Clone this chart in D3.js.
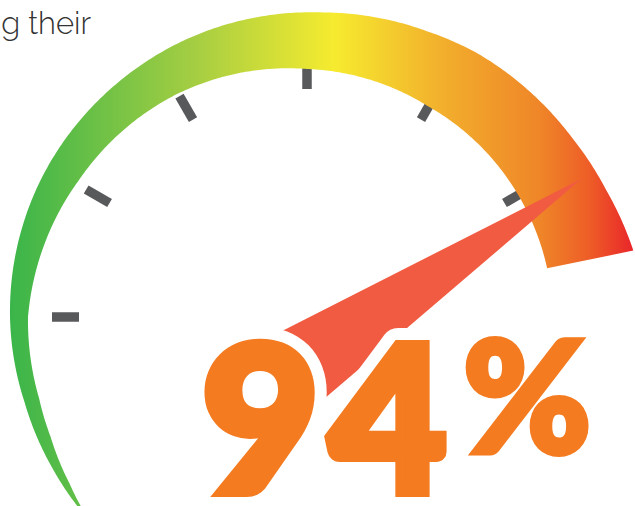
<!DOCTYPE html>
<head>
<meta charset="utf-8">
<title>Gauge 94%</title>
<script src="https://d3js.org/d3.v7.min.js"></script>
<style>
  html, body { margin: 0; padding: 0; background: #fff; }
  svg { display: block; }
</style>
</head>
<body>
<div id="container"></div>
<script>
//------------------------------DATA------------------------------//
const gaugeValue = 94;
const valueLabel = "94";
const unitLabel = "%";
const tickSteps = [0, 1, 2, 3, 4, 5];
const captionText = "g their";

//-----------------------------SETUP------------------------------//
const width = 635;
const height = 506;
const deg = Math.PI / 180;
const cx = 307, cy = 317;

const svg = d3.select("#container").append("svg")
    .attr("width", width)
    .attr("height", height);

// value -> angle (0 = 12 o'clock, clockwise)
const needleAngle = d3.scaleLinear().domain([0, 100]).range([-90 * deg, 65.6 * deg]);
const tickAngle = d3.scaleLinear().domain([0, 6]).range([-90 * deg, 90 * deg]);

// tapered band: radius profile along the sweep (degrees -> px)
const outerR = d3.scaleLinear()
    .domain([-133, -120, -107, -90, -63, -41, -21, 3, 23, 33, 45, 56, 67, 78.5])
    .range([298, 296, 295, 297, 299.5, 301, 303, 305, 310, 314, 317, 320, 325, 333]);
const innerR = d3.scaleLinear()
    .domain([-133, -125, -115, -107, -90, -59, -30, 0, 30, 62, 78.5])
    .range([298, 290, 283, 280, 279, 266, 258, 248, 243, 244, 245]);

//---------------------------GRADIENT-----------------------------//
const stops = [
  {o: 0,    c: "#3ab54a"},
  {o: 0.30, c: "#a6ce42"},
  {o: 0.52, c: "#f6eb2f"},
  {o: 0.70, c: "#f2ad2c"},
  {o: 0.85, c: "#ef8628"},
  {o: 0.93, c: "#ee5d27"},
  {o: 1,    c: "#e9262a"}
];
// gradient lives in the translated group's space
const grad = svg.append("defs").append("linearGradient")
    .attr("id", "bandGrad")
    .attr("gradientUnits", "userSpaceOnUse")
    .attr("x1", 10 - cx).attr("y1", 0)
    .attr("x2", 633 - cx).attr("y2", 0);
grad.selectAll("stop").data(stops).join("stop")
    .attr("offset", d => d.o)
    .attr("stop-color", d => d.c);

const g = svg.append("g").attr("transform", "translate(" + cx + "," + cy + ")");

//-----------------------------TICKS------------------------------//
g.append("g").selectAll("line")
    .data(tickSteps)
    .join("line")
    .attr("x1", d => 228 * Math.sin(tickAngle(d)))
    .attr("y1", d => -228 * Math.cos(tickAngle(d)))
    .attr("x2", d => 255 * Math.sin(tickAngle(d)))
    .attr("y2", d => -255 * Math.cos(tickAngle(d)))
    .attr("stroke", "#58595b")
    .attr("stroke-width", 9.5);

//-----------------------------BAND-------------------------------//
const band = d3.areaRadial()
    .angle(a => a * deg)
    .innerRadius(a => innerR(a))
    .outerRadius(a => outerR(a));

g.append("path")
    .attr("d", band(d3.range(-133, 78.51, 0.5)))
    .attr("fill", "url(#bandGrad)");

//-----------------------------NEEDLE-----------------------------//
const a = needleAngle(gaugeValue);
const needleLen = 350, needleHalf = 41.7;
const tip = [581.6, 178.8];
const pivot = [tip[0] - needleLen * Math.sin(a), tip[1] + needleLen * Math.cos(a)];
const needlePts = [
  tip,
  [pivot[0] + needleHalf * Math.cos(a), pivot[1] + needleHalf * Math.sin(a)],
  [pivot[0] - needleHalf * Math.cos(a), pivot[1] - needleHalf * Math.sin(a)]
];
svg.append("path")
    .attr("d", d3.line()(needlePts) + "Z")
    .attr("fill", "#f15b41");

//-----------------------------LABELS-----------------------------//
const bigFont = "Lato, 'Open Sans', sans-serif";
const orange = "#f47b20";

// white halo behind the number (cuts the needle)
svg.append("text")
    .attr("x", 202).attr("y", 492)
    .style("font-family", bigFont).style("font-weight", 900)
    .style("font-size", "202px").style("letter-spacing", "10px")
    .attr("fill", "#fff").attr("stroke", "#fff")
    .attr("stroke-width", 34).attr("stroke-linejoin", "round")
    .text(valueLabel);

svg.append("text")
    .attr("x", 202).attr("y", 492)
    .style("font-family", bigFont).style("font-weight", 900)
    .style("font-size", "202px").style("letter-spacing", "10px")
    .attr("fill", orange).attr("stroke", orange)
    .attr("stroke-width", 10).attr("stroke-linejoin", "miter")
    .text(valueLabel);

svg.append("text")
    .attr("x", 463).attr("y", 453)
    .style("font-family", bigFont).style("font-weight", 900)
    .style("font-size", "155px")
    .attr("fill", orange).attr("stroke", orange)
    .attr("stroke-width", 6).attr("stroke-linejoin", "miter")
    .text(unitLabel);

svg.append("text")
    .attr("x", 91).attr("y", 34)
    .attr("text-anchor", "end")
    .style("font-family", "Raleway, Lato, sans-serif")
    .style("font-weight", 300)
    .style("font-size", "31px")
    .attr("fill", "#333")
    .text(captionText);
</script>
</body>
